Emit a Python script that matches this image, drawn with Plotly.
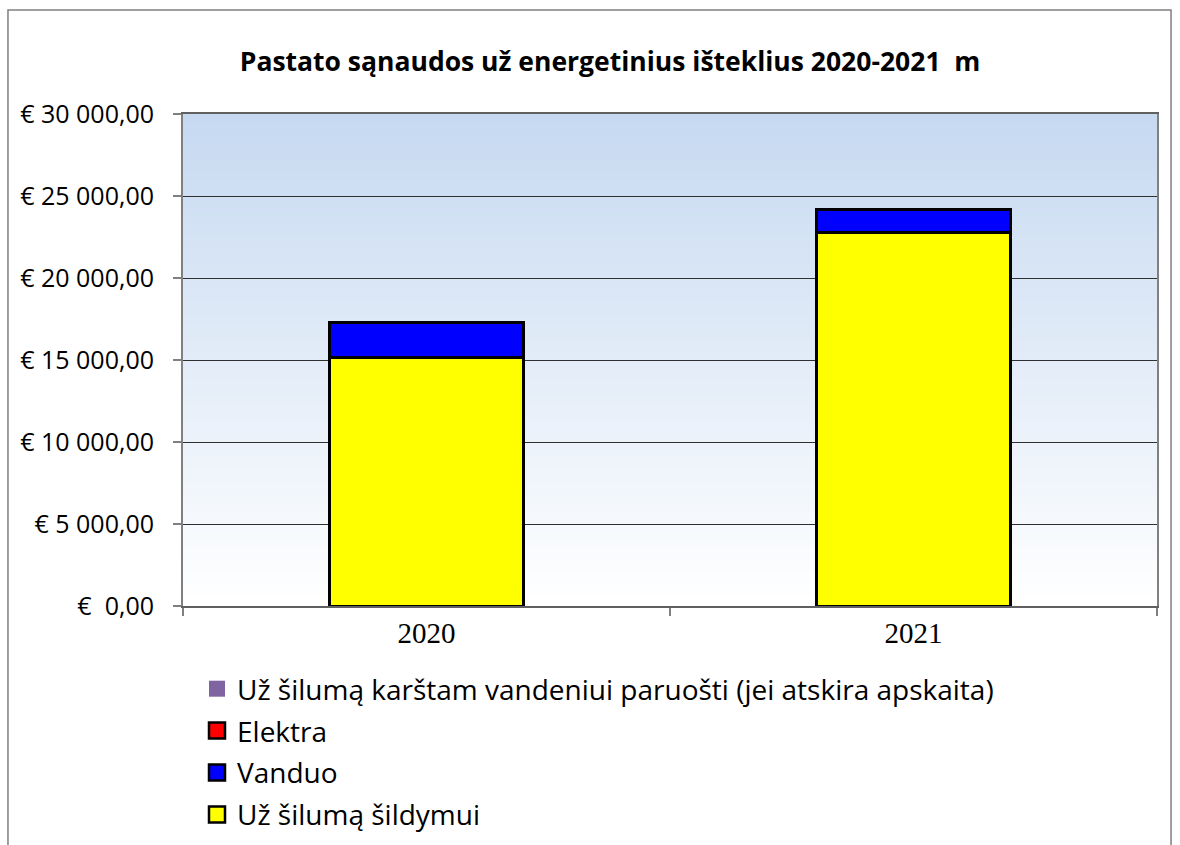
import plotly.graph_objects as go

# Chart data
years = ["2020", "2021"]
series_names = [
    "Už šilumą šildymui",
    "Vanduo",
    "Elektra",
    "Už šilumą karštam vandeniui paruošti (jei atskira apskaita)",
]
heating = [15180, 22800]
water = [2080, 1400]
electricity = [0, 0]
hot_water = [0, 0]
series_values = [heating, water, electricity, hot_water]
series_colors = ["#FFFF00", "#0000FF", "#FF0000", "#8064A2"]
series_outline = [3, 3, 3, 0]
legend_ranks = [4, 3, 2, 1]

y_tickvals = [0, 5000, 10000, 15000, 20000, 25000, 30000]
y_ticktext = ["€  0,00", "€ 5 000,00", "€ 10 000,00", "€ 15 000,00",
              "€ 20 000,00", "€ 25 000,00", "€ 30 000,00"]

title_text = "Pastato sąnaudos už energetinius išteklius 2020-2021  m"

fig = go.Figure()
for i, (name, vals, col, lw, rk) in enumerate(zip(series_names, series_values,
                                                   series_colors, series_outline,
                                                   legend_ranks)):
    fig.add_trace(go.Bar(
        x=years, y=vals, name=name, legendgroup=f"g{i}", showlegend=False,
        marker=dict(color=col, line=dict(color="#000000", width=lw)),
        width=0.4,
    ))
    # Legend entry with a larger square key for the same series
    fig.add_trace(go.Scatter(
        x=[None], y=[None], mode="markers", name=name, legendgroup=f"g{i}",
        legendrank=rk, showlegend=True,
        marker=dict(symbol="square", size=16, color=col,
                    line=dict(color="#000000", width=min(lw, 2.5))),
    ))

# Vertical gradient behind the plot area (light blue at top fading to white)
shapes = []
n_bands = 160
top = (198, 217, 241)
bottom = (255, 255, 255)
for k in range(n_bands):
    t = k / (n_bands - 1)
    c = tuple(round(top[j] + (bottom[j] - top[j]) * t) for j in range(3))
    y1 = 1 - k / n_bands
    y0 = 1 - (k + 1) / n_bands - 0.002
    shapes.append(dict(type="rect", xref="x domain", yref="y domain",
                       x0=0, x1=1, y0=max(y0, 0), y1=y1, layer="below",
                       line=dict(width=0), fillcolor="rgb(%d,%d,%d)" % c))

# Outer frame of the chart
shapes.append(dict(type="rect", xref="paper", yref="paper",
                   x0=-0.1797, x1=1.0144, y0=-0.50, y1=1.2114,
                   line=dict(color="#808080", width=1.5), layer="above"))

fig.update_layout(
    width=1180, height=845,
    margin=dict(l=183, r=23, t=114, b=239, autoexpand=False),
    paper_bgcolor="white",
    plot_bgcolor="white",
    barmode="stack",
    shapes=shapes,
    title=dict(text="<b>" + title_text + "</b>", x=0.517, xref="container",
               xanchor="center", y=1 - 62 / 845, yref="container", yanchor="middle",
               font=dict(family="Open Sans", size=26.5, color="#000000")),
    legend=dict(
        x=197 / 1180, xref="container", xanchor="left",
        y=1 - 664 / 845, yref="container", yanchor="top",
        traceorder="grouped", tracegroupgap=2.5,
        font=dict(family="Open Sans", size=28, color="#000000"),
        bgcolor="rgba(0,0,0,0)",
    ),
    showlegend=True,
)

fig.update_yaxes(
    range=[0, 30000], tickvals=y_tickvals, ticktext=y_ticktext,
    showgrid=True, gridcolor="#303030", gridwidth=1,
    showline=True, linecolor="#808080", linewidth=2, mirror=True,
    ticks="outside", ticklen=8, tickcolor="#808080", tickwidth=2,
    ticklabelstandoff=14,
    tickfont=dict(family="Open Sans", size=25, color="#000000"),
    zeroline=False,
)
fig.update_xaxes(
    showline=True, linecolor="#606060", linewidth=2, mirror=True,
    ticks="outside", ticklen=8, tickcolor="#808080", tickwidth=2,
    tickson="boundaries",
    tickfont=dict(family="Liberation Serif", size=29, color="#000000"),
    showgrid=False,
)

fig.write_html("out.html")
